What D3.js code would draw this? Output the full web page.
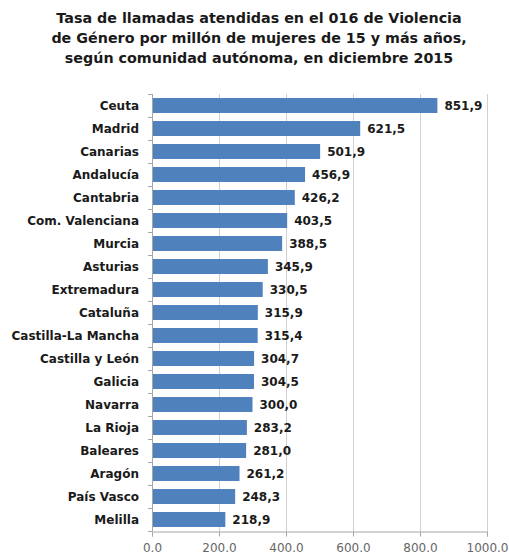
<!DOCTYPE html>
<html>
<head>
<meta charset="utf-8">
<script src="https://cdn.jsdelivr.net/npm/d3@7"></script>
<style>
  body { margin: 0; background: #fff; }
  text { font-family: "DejaVu Sans", sans-serif; }
</style>
</head>
<body>
<svg id="chart" width="509" height="554"></svg>
<script>
var categories = ['Ceuta', 'Madrid', 'Canarias', 'Andalucía', 'Cantabria', 'Com. Valenciana',
  'Murcia', 'Asturias', 'Extremadura', 'Cataluña', 'Castilla-La Mancha', 'Castilla y León',
  'Galicia', 'Navarra', 'La Rioja', 'Baleares', 'Aragón', 'País Vasco', 'Melilla']
var values = [851.9, 621.5, 501.9, 456.9, 426.2, 403.5, 388.5, 345.9, 330.5, 315.9, 315.4,
  304.7, 304.5, 300.0, 283.2, 281.0, 261.2, 248.3, 218.9]
var xTicks = [0, 200, 400, 600, 800, 1000]
var titleLines = ['Tasa de llamadas atendidas en el 016 de Violencia',
  'de Género por millón de mujeres de 15 y más años,',
  'según comunidad autónoma, en diciembre 2015']

var svg = d3.select('#chart'),
  plotLeft = 152,
  plotRight = 487,
  plotTop = 94,
  plotBottom = 531

var x = d3.scaleLinear().domain([0, 1000]).range([plotLeft, plotRight])
var y = d3.scaleBand().domain(categories).range([plotTop, plotBottom]).paddingInner(0.35).paddingOuter(0.175)

// title
svg.append('g')
  .selectAll('text')
  .data(titleLines)
  .enter()
  .append('text')
  .attr('x', 259)
  .attr('y', function(d, i) { return 23 + i * 20 })
  .attr('text-anchor', 'middle')
  .style('font-size', '14.3px')
  .style('font-weight', 'bold')
  .style('fill', '#1a1a1a')
  .text(function(d) { return d })

// vertical grid
svg.append('g')
  .selectAll('line')
  .data(xTicks.slice(1))
  .enter()
  .append('line')
  .attr('x1', function(d) { return Math.round(x(d)) + 0.5 })
  .attr('x2', function(d) { return Math.round(x(d)) + 0.5 })
  .attr('y1', plotTop)
  .attr('y2', plotBottom)
  .style('stroke', '#d0d0d0')
  .style('stroke-width', 1)

// x axis
var xAxis = svg.append('g')
  .attr('transform', 'translate(0,' + (plotBottom + 0.5) + ')')
  .call(d3.axisBottom(x).tickValues(xTicks).tickSize(5).tickFormat(d3.format('.1f')))
xAxis.select('.domain').style('stroke', '#a6a6a6')
xAxis.selectAll('.tick line').style('stroke', '#a6a6a6')
xAxis.selectAll('.tick text')
  .attr('y', 12)
  .style('font-size', '12px')
  .style('fill', '#666666')
  .style('font-family', '"DejaVu Sans", sans-serif')

// y axis line and boundary ticks
var yAxisG = svg.append('g')
yAxisG.append('line')
  .attr('x1', plotLeft + 0.5).attr('x2', plotLeft + 0.5)
  .attr('y1', plotTop).attr('y2', plotBottom)
  .style('stroke', '#a6a6a6')
var step = (plotBottom - plotTop) / categories.length
yAxisG.selectAll('line.tk')
  .data(d3.range(categories.length + 1))
  .enter()
  .append('line')
  .attr('class', 'tk')
  .attr('x1', plotLeft - 4)
  .attr('x2', plotLeft)
  .attr('y1', function(i) { return Math.round(plotTop + i * step) + 0.5 })
  .attr('y2', function(i) { return Math.round(plotTop + i * step) + 0.5 })
  .style('stroke', '#a6a6a6')

// bars
svg.append('g')
  .selectAll('rect')
  .data(values)
  .enter()
  .append('rect')
  .attr('x', x(0) + 1)
  .attr('y', function(d, i) { return y(categories[i]) })
  .attr('width', function(d) { return x(d) - x(0) - 1 })
  .attr('height', y.bandwidth())
  .style('fill', '#4f81bd')

// category labels
svg.append('g')
  .selectAll('text')
  .data(categories)
  .enter()
  .append('text')
  .attr('x', plotLeft - 13)
  .attr('y', function(d) { return y(d) + y.bandwidth() / 2 })
  .attr('dy', '0.35em')
  .attr('text-anchor', 'end')
  .style('font-size', '12px')
  .style('font-weight', 'bold')
  .style('fill', '#1a1a1a')
  .text(function(d) { return d })

// value labels
var fmt = function(v) { return v.toFixed(1).replace('.', ',') }
svg.append('g')
  .selectAll('text')
  .data(values)
  .enter()
  .append('text')
  .attr('x', function(d) { return x(d) + 7 })
  .attr('y', function(d, i) { return y(categories[i]) + y.bandwidth() / 2 })
  .attr('dy', '0.35em')
  .style('font-size', '12px')
  .style('font-weight', 'bold')
  .style('fill', '#1a1a1a')
  .text(fmt)
</script>
</body>
</html>
